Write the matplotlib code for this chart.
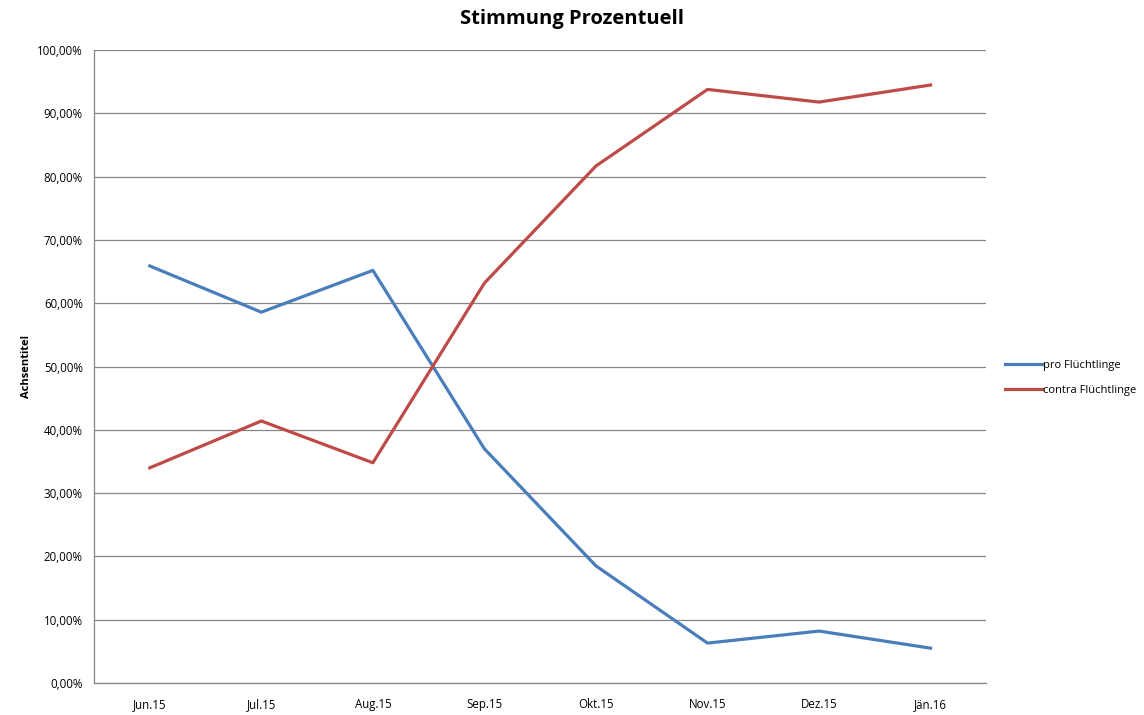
import matplotlib.pyplot as plt
from matplotlib.ticker import FuncFormatter

# Daten
monate = ['Jun.15', 'Jul.15', 'Aug.15', 'Sep.15', 'Okt.15', 'Nov.15', 'Dez.15', 'Jän.16']
pro = [65.9, 58.6, 65.2, 37.0, 18.5, 6.3, 8.2, 5.5]
contra = [34.0, 41.4, 34.8, 63.2, 81.7, 93.8, 91.8, 94.5]

plt.rcParams['font.family'] = ['Open Sans', 'DejaVu Sans']

fig = plt.figure(figsize=(11.44, 7.15), dpi=100)
ax = fig.add_axes([0.0822, 0.0448, 0.78, 0.885])

x = range(len(monate))
ax.plot(x, pro, color='#4a7ebb', linewidth=2.3, label='pro Flüchtlinge')
ax.plot(x, contra, color='#be4b48', linewidth=2.3, label='contra Flüchtlinge')

ax.set_xlim(-0.5, len(monate) - 0.5)
ax.set_ylim(0, 100)
ax.set_yticks(range(0, 101, 10))
ax.yaxis.set_major_formatter(FuncFormatter(lambda v, p: f"{v:.2f}%".replace('.', ',')))
ax.set_xticks(list(x))
ax.set_xticklabels(monate)
ax.tick_params(axis='both', labelsize=8.3, length=0)
ax.tick_params(axis='x', pad=11)
ax.tick_params(axis='y', pad=8)

ax.grid(axis='y', color='#868686', linewidth=0.9)
ax.set_axisbelow(True)
for s in ['top', 'right']:
    ax.spines[s].set_visible(False)
for s in ['left', 'bottom']:
    ax.spines[s].set_color('#868686')
    ax.spines[s].set_linewidth(0.9)

ax.set_ylabel('Achsentitel', fontsize=8, fontweight='bold', labelpad=4)
fig.suptitle('Stimmung Prozentuell', fontsize=14.5, fontweight='bold', y=0.987)

ax.legend(loc='center left', bbox_to_anchor=(1.01, 0.482), frameon=False,
          fontsize=8, handlelength=3.3, handletextpad=0.1, labelspacing=1.25)

fig.savefig('out.png', dpi=100)
